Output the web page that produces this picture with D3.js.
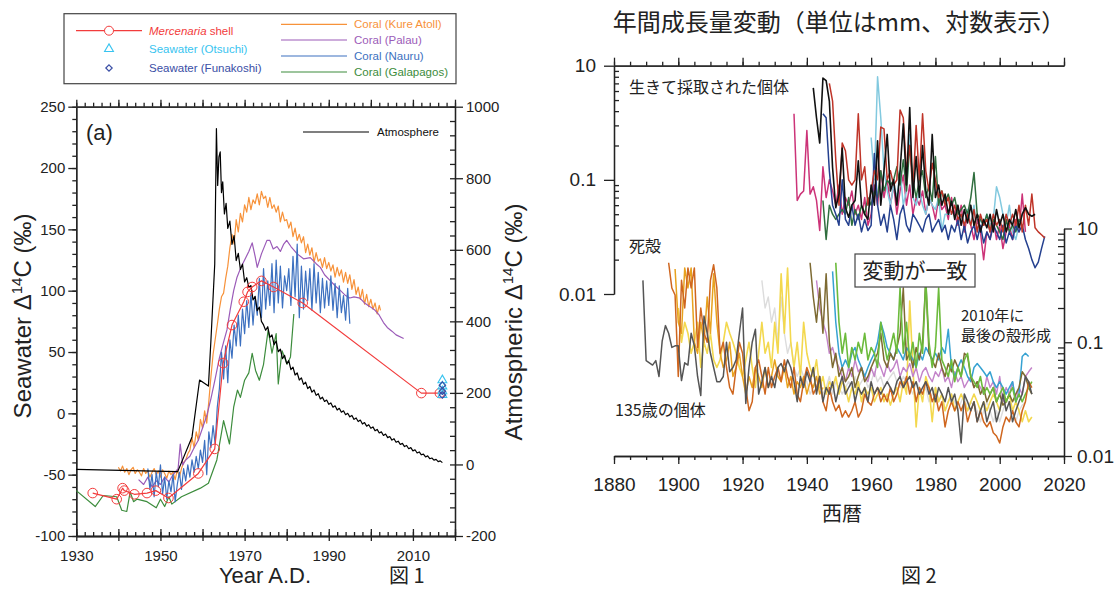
<!doctype html>
<html lang="ja">
<head>
<meta charset="utf-8">
<title>Radiocarbon and shell growth</title>
<style>
  body { margin: 0; background: #fff; }
  svg { display: block; font-family: "Liberation Sans", Arial, sans-serif; }
  .axis path, .axis line { stroke: #222; stroke-width: 1.3; }
  .axis text { fill: #222; }
  .jp { font-family: "Noto Sans CJK JP", sans-serif; fill: #222; }
  .series { fill: none; stroke-linejoin: round; }
</style>
</head>
<body>
<script src="https://d3js.org/d3.v7.min.js"></script>
<script>
// ---------- Figure 1 data: [year, Δ14C ‰] ----------
const atmosphere = [[1930,-14],[1954.1,-20],[1957.5,77],[1959.3,236],[1961.4,219],[1962,348],[1962.9,560],[1963.3,939],
  [1963.6,780],[1963.9,860],[1964.2,874],[1964.5,760],[1964.8,790],[1965.2,700],[1965.6,730],[1966,660],[1966.5,680],
  [1967,615],[1967.5,640],[1968,570],[1968.5,590],[1969,545],[1969.5,560],[1970,510],[1970.5,522],[1971,495],[1971.5,500],
  [1972,460],[1972.5,470],[1973,430],[1973.5,440],[1974,400],[1974.5,390],[1975,375],[1975.5,385],[1976,355],[1976.5,362],
  [1977,335],[1977.5,345],[1978,315],[1978.5,322],[1979,296],[1979.5,305],[1980,282],[1980.5,290],[1981,265],[1981.5,272],
  [1982,250],[1982.5,256],[1983,236],[1983.5,242],[1984,224],[1984.5,230],[1985,212],[1985.5,218],[1986,202],[1986.5,208],
  [1987,193],[1987.5,198],[1988,183],[1988.5,188],[1989,176],[1989.5,180],[1990,168],[1990.5,172],[1991,160],[1991.5,164],
  [1992,152],[1992.5,157],[1993,146],[1993.5,150],[1994,139],[1994.5,143],[1995,133],[1995.5,137],[1996,126],[1996.5,130],
  [1997,120],[1997.5,124],[1998,113],[1998.5,117],[1999,107],[1999.5,111],[2000,101],[2000.5,105],[2001,94],[2001.5,98],
  [2002,88],[2002.5,91],[2003,81],[2003.5,85],[2004,75],[2004.5,78],[2005,68],[2005.5,72],[2006,62],[2006.5,65],
  [2007,56],[2007.5,59],[2008,50],[2008.5,53],[2009,44],[2009.5,47],[2010,38],[2010.5,41],[2011,32],[2011.5,35],
  [2012,27],[2012.5,29],[2013,21],[2013.5,24],[2014,16],[2014.5,18],[2015,12],[2015.5,14],[2016,8],[2016.5,10],[2017,5]];

const coralKure = [[1940,-44],[1940.5,-47],[1941,-43],[1941.5,-48],[1942,-45],[1942.5,-50],[1943,-46],[1943.5,-44],
  [1944,-49],[1944.5,-46],[1945,-48],[1945.5,-51],[1946,-45],[1946.5,-49],[1947,-47],[1947.5,-52],[1948,-48],[1948.5,-45],
  [1949,-50],[1949.5,-47],[1950,-52],[1950.5,-46],[1951,-49],[1951.5,-53],[1952,-47],[1952.5,-50],[1953,-48],[1953.5,-54],
  [1954,-46],[1954.5,-52],[1955,-45],[1955.5,-40],[1956,-38],[1956.5,-33],[1957,-30],[1957.5,-20],[1958,-28],[1958.5,-15],
  [1959,-22],[1959.5,-5],[1960,-12],[1960.5,2],[1961,-8],[1961.5,10],[1962,30],[1962.5,48],[1963,60],[1963.5,72],
  [1964,85],[1964.5,95],[1965,98],[1965.5,110],[1966,120],[1966.5,135],[1967,146],[1967.5,138],[1968,158],[1968.5,148],
  [1969,163],[1969.5,156],[1970,170],[1970.5,164],[1971,176],[1971.5,166],[1972,174],[1972.5,171],[1973,179],[1973.5,170],
  [1974,181],[1974.5,175],[1975,177],[1975.5,168],[1976,176],[1976.5,167],[1977,170],[1977.5,164],[1978,169],[1978.5,156],
  [1979,164],[1979.5,157],[1980,158],[1980.5,151],[1981,156],[1981.5,144],[1982,151],[1982.5,141],[1983,146],[1983.5,139],
  [1984,144],[1984.5,131],[1985,138],[1985.5,129],[1986,135],[1986.5,123],[1987,131],[1987.5,124],[1988,126],[1988.5,119],
  [1989,127],[1989.5,118],[1990,123],[1990.5,116],[1991,121],[1991.5,111],[1992,119],[1992.5,112],[1993,117],[1993.5,107],
  [1994,115],[1994.5,106],[1995,113],[1995.5,101],[1996,109],[1996.5,97],[1997,103],[1997.5,93],[1998,101],[1998.5,89],
  [1999,97],[1999.5,87],[2000,93],[2000.5,85],[2001,90],[2001.5,81],[2002,88],[2002.3,84]];

const coralPalau = [[1944.8,-54],[1946,-58],[1947,-52],[1948,-60],[1949,-55],[1950,-58],[1951,-52],[1952,-56],[1953,-50],
  [1954.2,-45],[1954.7,-25],[1955.3,-42],[1956,-38],[1957,-35],[1958,-28],[1959,-22],[1960,-12],[1961,-2],[1962,12],
  [1963,28],[1964,45],[1965,58],[1965.8,68],[1966.6,85],[1967.4,100],[1968.2,111],[1969,118],[1970,125],[1971,132],
  [1971.8,139],[1972.5,128],[1973,119],[1974,130],[1975.3,141],[1976,141],[1976.8,134],[1977.7,136],[1978.5,132],
  [1979.3,138],[1980,141],[1981,136],[1982.5,130],[1984,126],[1985.6,127],[1987,122],[1988,119],[1989,113],[1990.4,108],
  [1991.5,104],[1992.8,100],[1994,96],[1995,94],[1996,95],[1997.4,94],[1998.5,90],[1999.8,87],[2001,84],[2002,80],
  [2003,74],[2003.9,70],[2005,67],[2006,64],[2007.8,61]];

const coralNauru = [[1947,-45],[1947.5,-62],[1948,-50],[1948.5,-68],[1949,-48],[1949.5,-60],[1950,-42],[1950.5,-66],
  [1951,-52],[1951.5,-70],[1952,-55],[1952.5,-64],[1953,-50],[1953.5,-72],[1954,-58],[1954.5,-48],[1955,-62],[1955.5,-45],
  [1956,-55],[1956.5,-42],[1957,-52],[1957.5,-38],[1958,-48],[1958.5,-35],[1959,-45],[1959.5,-30],[1960,-40],[1960.5,-22],
  [1961,-50],[1961.5,-15],[1962,-28],[1962.5,-10],[1963,-25],[1963.5,5],[1964,20],[1964.5,50],[1965,28],[1965.5,55],
  [1966,25],[1966.5,60],[1967,45],[1967.5,72],[1968,55],[1968.5,80],[1969,55],[1969.5,85],[1970,65],[1970.5,92],
  [1971,70],[1971.5,98],[1972,72],[1972.5,95],[1973,80],[1973.5,110],[1974,78],[1974.5,118],[1975,85],[1975.5,108],
  [1976,88],[1976.5,122],[1977,82],[1977.5,125],[1978,90],[1978.5,120],[1979,86],[1979.5,112],[1980,100],[1980.5,118],
  [1981,88],[1981.5,128],[1982,95],[1982.5,138],[1983,78],[1983.5,120],[1984,85],[1984.5,116],[1985,92],[1985.5,118],
  [1986,84],[1986.5,122],[1987,90],[1987.5,115],[1988,82],[1988.5,110],[1989,86],[1989.5,108],[1990,88],[1990.5,112],
  [1991,84],[1991.5,106],[1992,78],[1992.5,104],[1993,82],[1993.5,96],[1994,76],[1994.5,102],[1995,73]];

const coralGalapagos = [[1930,-63],[1934.5,-76],[1936.4,-67],[1939.6,-68],[1940.8,-79],[1942,-80],[1942.8,-64],[1943.6,-72],
  [1944.4,-70],[1946.8,-72],[1949,-77],[1950,-70],[1951,-76],[1952,-68],[1952.7,-74],[1955,-68],[1959.5,-61],[1961.4,-57],
  [1963.4,-38],[1965,-6],[1966.4,-25],[1967.4,5],[1968.3,19],[1969,13],[1970,27],[1971,33],[1971.8,49],[1972.6,35],
  [1973.5,27],[1974.5,40],[1975.6,68],[1976.5,49],[1977.5,65],[1978,24],[1978.9,51],[1980.1,40],[1980.9,46],[1981.7,81]];

const mercenaria = [[1933.9,-65],[1939.6,-70],[1941,-61],[1941.4,-63],[1943.8,-66],[1946.8,-65],[1948.9,-63],[1951.9,-69],
  [1959,-49],[1962.9,-29],[1964.9,41],[1967,72],[1969.8,91],[1970.7,99],[1971.8,103],[1974,108],[1976.9,103],[1983.8,90],
  [2012,16.5],[2016.4,16.5]];

const seawaterOtsuchi = [[2017,27],[2017,22],[2017,18],[2017,15]];
const seawaterFunakoshi = [[2017,23],[2017,18],[2017,15]];

// ---------- Figure 2 data: annual growth (mm), one value per year from the start year ----------
const logTickLabels = ["0.01", "0.1", "10"];

const liveMagenta = [0.38,0.066,0.075,0.08,0.27,0.075,0.087,0.066,0.036,0.13,0.07,0.1,0.08,0.06,0.09,0.05,0.07,0.06,0.08,0.05,
  0.06,0.045,0.07,0.04,0.05,0.09,0.06,0.12,0.07,0.1,0.06,0.09,0.05,0.08,0.11,0.06,0.09,0.05,0.07,0.06,
  0.08,0.05,0.07,0.06,0.045,0.07,0.055,0.06,0.045,0.07,0.05,0.04,0.06,0.035,0.05,0.04,0.03,0.045,0.035,0.02,
  0.035,0.03,0.045,0.03,0.04,0.025,0.035,0.04,0.03,0.045,0.035,0.075,0.035];
const liveLightBlue = [0.235,0.1,0.8,0.35,0.12,0.08,0.06,0.09,0.07,0.12,0.06,0.08,0.25,0.07,0.06,0.08,0.06,0.05,0.07,0.06,
  0.055,0.07,0.036,0.05,0.05,0.05,0.06,0.045,0.05,0.04,0.055,0.04,0.06,0.035,0.045,0.04,0.05,0.04,0.045,0.087,
  0.07,0.05,0.04,0.06,0.035,0.03,0.04,0.05];
const liveGreen = [0.066,0.03,0.06,0.05,0.045,0.05,0.055,0.05,0.07,0.04,0.055,0.045,0.06,0.05,0.07,0.06,0.08,0.07,0.12,0.08,
  0.1,0.09,0.1,0.13,0.09,0.15,0.08,0.2,0.1,0.07,0.1,0.12,0.07,0.09,0.065,0.16,0.06,0.08,0.065,0.075,
  0.06,0.07,0.05,0.055,0.06,0.05,0.07,0.116,0.05,0.045,0.04,0.05,0.035,0.045,0.04,0.035,0.03,0.045,0.035,0.04,
  0.035,0.045,0.04];
const liveNavy = [0.38,0.35,0.12,0.06,0.05,0.04,0.1,0.045,0.04,0.06,0.04,0.05,0.035,0.045,0.036,0.04,0.17,0.06,0.04,0.05,
  0.035,0.06,0.045,0.03,0.05,0.06,0.04,0.035,0.05,0.045,0.04,0.035,0.045,0.05,0.035,0.04,0.045,0.035,0.04,0.03,
  0.04,0.035,0.045,0.03,0.04,0.028,0.035,0.04,0.03,0.04,0.028,0.035,0.03,0.04,0.035,0.03,0.04,0.028,0.035,0.03,
  0.04,0.035,0.04,0.03,0.025,0.02,0.017,0.019,0.025,0.032];
const liveRed = [0.7,0.49,0.15,0.06,0.21,0.18,0.1,0.09,0.1,0.38,0.1,0.13,0.06,0.08,0.12,0.1,0.29,0.28,0.1,0.12,
  0.09,0.1,0.41,0.35,0.12,0.2,0.08,0.3,0.1,0.38,0.12,0.08,0.14,0.1,0.07,0.08,0.06,0.07,0.05,0.06,
  0.045,0.05,0.04,0.05,0.04,0.055,0.035,0.05,0.04,0.045,0.035,0.05,0.04,0.045,0.035,0.05,0.04,0.05,0.04,0.06,
  0.035,0.06,0.04,0.075,0.038,0.035,0.033,0.031];
const liveBlack = [0.64,0.35,0.21,0.78,0.74,0.49,0.128,0.057,0.075,0.19,0.057,0.047,0.06,0.066,0.147,0.06,0.05,0.045,0.09,0.06,
  0.22,0.06,0.12,0.25,0.08,0.1,0.06,0.12,0.31,0.09,0.43,0.07,0.16,0.07,0.2,0.08,0.06,0.25,0.07,0.09,
  0.06,0.075,0.05,0.065,0.045,0.06,0.04,0.055,0.042,0.06,0.04,0.05,0.035,0.045,0.038,0.05,0.035,0.055,0.04,0.05,
  0.035,0.045,0.04,0.055,0.038,0.05,0.057,0.05,0.048,0.05];

const deadPale = [0.35,0.2,0.25,0.15,0.2,0.1,0.25,0.12,0.08,0.1,0.06,0.05,0.06,0.05,0.045,0.035,0.04,0.05,0.04,0.035,
  0.04,0.05,0.035,0.045,0.04,0.035,0.04,0.045,0.04,0.05,0.04,0.045,0.05,0.04,0.045,0.055,0.045,0.05,0.04,0.045,
  0.05,0.055,0.045,0.04,0.05,0.045,0.04,0.035,0.045,0.04,0.035,0.04,0.03,0.035,0.04,0.03,0.035,0.025,0.03,0.035,
  0.03,0.025,0.03,0.035,0.025,0.03,0.028,0.025,0.02,0.025,0.03,0.025,0.02,0.025,0.02,0.025,0.03,0.03,0.025,0.02,
  0.025,0.028,0.03];
const deadYellow = [0.2,0.1,0.15,0.12,0.08,0.1,0.15,0.06,0.1,0.08, 0.12,0.07,0.06,0.07,0.1,0.15,0.12,0.1,0.08,0.06,
  0.05,0.07,0.1,0.06,0.04,0.08,0.15,0.08,0.1,0.06, 0.15,0.08,0.4,0.12,0.45,0.1,0.06,0.1,0.05,0.15,
  0.08,0.06,0.05,0.07,0.04,0.05,0.035,0.045,0.04,0.05, 0.035,0.045,0.04,0.03,0.04,0.035,0.045,0.03,0.04,0.035,
  0.04,0.03,0.035,0.04,0.03,0.035,0.028,0.035,0.04,0.03, 0.045,0.035,0.23,0.06,0.018,0.04,0.03,0.05,0.04,0.02,
  0.04,0.03,0.035,0.025,0.03,0.035,0.025,0.03,0.035,0.03, 0.025,0.03,0.035,0.03,0.025,0.03,0.025,0.03,0.035,0.03,
  0.025,0.035,0.03,0.035,0.025,0.03,0.025,0.02,0.025,0.02, 0.022];
const deadAmber = [0.44,0.15,0.12,0.45,0.3,0.45,0.1,0.08,0.15,0.1,0.25,0.12,0.4,0.15,0.08,0.06,0.07,0.1,0.05,0.06,
  0.08,0.05,0.035,0.05,0.04,0.06,0.05,0.04,0.06,0.04,0.05,0.07,0.05,0.045,0.06,0.04,0.05,0.035,0.045,0.04,
  0.05,0.035,0.045,0.04,0.05,0.035,0.04];
const deadLavender = [0.35,0.2,0.15,0.12,0.08,0.09,0.07,0.06,0.05,0.045,0.06,0.05,0.07,0.055,0.06,0.05,0.045,0.06,0.05,0.07,
  0.06,0.05,0.065,0.055,0.06,0.07,0.05,0.06,0.055,0.065,0.05,0.06,0.045,0.055,0.06,0.05,0.045,0.055,0.05,0.06,
  0.045,0.05,0.04,0.055,0.045,0.05,0.04,0.045,0.05,0.04,0.045,0.04,0.035,0.05,0.04,0.045,0.035,0.05,0.03,0.04,
  0.035,0.045,0.03,0.04,0.035,0.05,0.055,0.06];
const deadTeal = [0.42,0.15,0.08,0.06,0.07,0.06,0.08,0.09,0.07,0.06, 0.05,0.06,0.07,0.08,0.1,0.15,0.12,0.09,0.08,0.07,
  0.09,0.08,0.07,0.09,0.08,0.07,0.06,0.08,0.07,0.09, 0.08,0.07,0.08,0.07,0.09,0.08,0.13,0.06,0.05,0.06,
  0.07,0.06,0.05,0.045,0.06,0.065,0.06,0.055,0.05,0.055, 0.045,0.04,0.045,0.04,0.035,0.04,0.045,0.03,0.035,0.075,
  0.08,0.075];
const deadOlive = [0.5,0.25,0.15,0.3,0.12,0.4,0.1,0.06,0.08,0.05,0.06,0.045,0.05,0.06,0.04,0.05,0.06,0.045,0.05,0.06,
  0.07,0.08,0.12,0.07,0.06,0.08,0.07,0.09,0.12,0.3,0.07,0.08,0.06,0.09,0.07,0.1,0.35,0.08,0.07,0.06,
  0.08,0.06,0.05,0.065,0.055,0.07,0.06,0.05,0.08,0.075,0.05,0.04,0.045,0.035,0.04,0.03,0.035,0.04,0.03,0.035,
  0.028,0.03,0.035,0.03,0.035,0.04,0.055,0.05,0.04,0.035];
const deadGreen = [0.5,0.15,0.08,0.12,0.06,0.09,0.07,0.1,0.08,0.12, 0.07,0.09,0.08,0.06,0.15,0.1,0.07,0.09,0.12,0.08,
  0.3,0.08,0.15,0.07,0.1,0.06,0.12,0.08,0.35,0.1, 0.06,0.09,0.3,0.07,0.06,0.05,0.07,0.045,0.06,0.05,
  0.07,0.08,0.05,0.045,0.04,0.05,0.035,0.04,0.035,0.04, 0.03,0.035,0.04,0.03,0.035,0.04,0.03,0.035,0.03,0.035,
  0.04,0.045];
const deadOrange = [0.5,0.3,0.26,0.05,0.35,0.2,0.45,0.3,0.45,0.09,0.2,0.12,0.1,0.35,0.48,0.3,0.08,0.1,0.06,0.04,
  0.035,0.06,0.1,0.08,0.04,0.025,0.03,0.06,0.07,0.05,0.035,0.06,0.04,0.05,0.06,0.045,0.07,0.05,0.04,0.06,
  0.035,0.03,0.045,0.06,0.05,0.035,0.04,0.05,0.03,0.025,0.04,0.03,0.025,0.028,0.022,0.025,0.022,0.025,0.03,0.022,
  0.025,0.035,0.03,0.028,0.035,0.04,0.03,0.035,0.03,0.04,0.03,0.035,0.045,0.04,0.05,0.035,0.045,0.03,0.04,0.035,
  0.045,0.04,0.03,0.035,0.025,0.03,0.018,0.025,0.03,0.025,0.03,0.025,0.03,0.02,0.025,0.03,0.02,0.025,0.02,0.018,
  0.02,0.016,0.015,0.013,0.018,0.022,0.02,0.025,0.02,0.018,0.025,0.03,0.045,0.04];
const deadGray = [0.35,0.069,0.066,0.063,0.069,0.05,0.103,0.14,0.12,0.09, 0.093,0.093,0.046,0.066,0.063,0.12,0.093,0.05,0.034,0.17,
  0.12,0.08,0.06,0.045,0.045,0.05,0.1,0.055,0.06,0.07, 0.12,0.2,0.029,0.06,0.1,0.13,0.035,0.045,0.06,0.04,
  0.05,0.04,0.06,0.065,0.055,0.07,0.06,0.045,0.03,0.05, 0.04,0.055,0.045,0.06,0.035,0.05,0.03,0.04,0.035,0.045,
  0.03,0.04,0.05,0.035,0.04,0.045,0.03,0.04,0.035,0.04, 0.03,0.045,0.035,0.04,0.035,0.04,0.045,0.04,0.035,0.045,
  0.05,0.04,0.045,0.05,0.04,0.045,0.035,0.04,0.045,0.035, 0.04,0.03,0.04,0.035,0.03,0.04,0.03,0.035,0.025,0.013,
  0.035,0.03,0.025,0.03,0.02,0.025,0.03,0.02,0.025,0.03, 0.02,0.025,0.035,0.025,0.03,0.02,0.025,0.03,0.035,0.05,
  0.045,0.035];

const W = 1119, H = 589;
const svg = d3.select("body").append("svg").attr("width", W).attr("height", H);

// =================== Figure 1 ===================
const x1 = d3.scaleLinear().domain([1930, 2020]).range([76.3, 455]);
const yL = d3.scaleLinear().domain([-100, 250]).range([536, 106.7]);
const yR = d3.scaleLinear().domain([-200, 1000]).range([536, 106.7]);

function styleAxis(g, size) {
    g.attr("class", "axis").style("font-size", size + "px");
    g.selectAll("text").style("font-family", '"Liberation Sans", Arial, sans-serif');
}

const f1 = svg.append("g");

// minor ticks (no labels)
f1.append("g").attr("transform", "translate(0,536)")
    .call(d3.axisBottom(x1).tickValues(d3.range(1930, 2021, 2)).tickSize(-4).tickSizeOuter(0).tickFormat(""))
    .call(styleAxis, 15);
f1.append("g").attr("transform", "translate(0,536)")
    .call(d3.axisBottom(x1).tickValues(d3.range(1930, 2021, 10)).tickSize(5).tickPadding(9).tickSizeOuter(0)
        .tickFormat(d => (d - 1930) % 20 === 0 ? String(d) : ""))
    .call(styleAxis, 15);
f1.append("g").attr("transform", "translate(0,536)")
    .call(d3.axisBottom(x1).tickValues(d3.range(1930, 2021, 10)).tickSize(-7).tickSizeOuter(0).tickFormat(""))
    .call(styleAxis, 15);
f1.append("g").attr("transform", "translate(0,106.7)")
    .call(d3.axisTop(x1).tickValues(d3.range(1930, 2021, 2)).tickSize(4).tickSizeOuter(0).tickFormat(""))
    .call(styleAxis, 15);
f1.append("g").attr("transform", "translate(0,106.7)")
    .call(d3.axisTop(x1).tickValues(d3.range(1930, 2021, 10)).tickSize(7).tickSizeOuter(0).tickFormat(""))
    .call(styleAxis, 15);
f1.append("g").attr("transform", "translate(76.3,0)")
    .call(d3.axisLeft(yL).tickValues(d3.range(-100, 251, 10)).tickSize(4).tickSizeOuter(0).tickFormat(""))
    .call(styleAxis, 15);
f1.append("g").attr("transform", "translate(76.3,0)")
    .call(d3.axisLeft(yL).tickValues(d3.range(-100, 251, 50)).tickSize(8).tickPadding(3).tickSizeOuter(0).tickFormat(d => String(d)))
    .call(styleAxis, 15);
f1.append("g").attr("transform", "translate(455,0)")
    .call(d3.axisRight(yR).tickValues(d3.range(-200, 1001, 40)).tickSize(-5).tickSizeOuter(0).tickFormat(""))
    .call(styleAxis, 15);
f1.append("g").attr("transform", "translate(455,0)")
    .call(d3.axisRight(yR).tickValues(d3.range(-200, 1001, 200)).tickSize(8).tickPadding(3).tickSizeOuter(0).tickFormat(d => String(d)))
    .call(styleAxis, 15);

const lineL = d3.line().x(d => x1(d[0])).y(d => yL(d[1]));
const lineR = d3.line().x(d => x1(d[0])).y(d => yR(d[1]));

const seriesF1 = [
    { data: coralGalapagos, color: "#3c8c3c", line: lineL },
    { data: coralKure, color: "#f7923a", line: lineL },
    { data: coralPalau, color: "#9b5bb8", line: lineL },
    { data: coralNauru, color: "#3c70c0", line: lineL },
    { data: atmosphere, color: "#000000", line: lineR },
    { data: mercenaria, color: "#f23c3c", line: lineL }
];
f1.selectAll("path.series").data(seriesF1).enter().append("path")
    .attr("class", "series")
    .attr("d", d => d.line(d.data))
    .attr("stroke", d => d.color)
    .attr("stroke-width", 1.2);

f1.selectAll("circle.merc").data(mercenaria).enter().append("circle")
    .attr("class", "merc")
    .attr("cx", d => x1(d[0])).attr("cy", d => yL(d[1])).attr("r", 4.8)
    .attr("fill", "none").attr("stroke", "#f23c3c").attr("stroke-width", 1);

const tri = d3.symbol().type(d3.symbolTriangle).size(34);
const dia = d3.symbol().type(d3.symbolDiamond2).size(26);
f1.selectAll("path.ots").data(seawaterOtsuchi).enter().append("path")
    .attr("class", "ots").attr("d", tri)
    .attr("transform", d => `translate(${x1(d[0])},${yL(d[1])})`)
    .attr("fill", "none").attr("stroke", "#38c4f0").attr("stroke-width", 1.1);
f1.selectAll("path.fun").data(seawaterFunakoshi).enter().append("path")
    .attr("class", "fun").attr("d", dia)
    .attr("transform", d => `translate(${x1(d[0])},${yL(d[1])})`)
    .attr("fill", "none").attr("stroke", "#3a4ea5").attr("stroke-width", 1.2);

// panel label and atmosphere key
f1.append("text").attr("x", 86).attr("y", 140).attr("font-size", 22).attr("fill", "#222").text("(a)");
f1.append("line").attr("x1", 303).attr("x2", 369).attr("y1", 132).attr("y2", 132).attr("stroke", "#000").attr("stroke-width", 1.2);
f1.append("text").attr("x", 377).attr("y", 136).attr("font-size", 11.5).attr("fill", "#111").text("Atmosphere");

// legend box
const leg = f1.append("g");
leg.append("rect").attr("x", 64).attr("y", 13.7).attr("width", 392).attr("height", 70)
    .attr("fill", "none").attr("stroke", "#444").attr("stroke-width", 1.2);
leg.append("line").attr("x1", 76).attr("x2", 142).attr("y1", 30.7).attr("y2", 30.7).attr("stroke", "#f23c3c").attr("stroke-width", 1.2);
leg.append("circle").attr("cx", 109).attr("cy", 30.7).attr("r", 4.5).attr("fill", "#fff").attr("stroke", "#f23c3c");
const mt = leg.append("text").attr("x", 149).attr("y", 34.7).attr("font-size", 11.5).attr("fill", "#f23c3c");
mt.append("tspan").attr("font-style", "italic").text("Mercenaria");
mt.append("tspan").text(" shell");
leg.append("path").attr("d", tri).attr("transform", "translate(109,49)").attr("fill", "none").attr("stroke", "#38c4f0").attr("stroke-width", 1.1);
leg.append("text").attr("x", 149).attr("y", 52.8).attr("font-size", 11.5).attr("fill", "#38c4f0").text("Seawater (Otsuchi)");
leg.append("path").attr("d", dia).attr("transform", "translate(109,68)").attr("fill", "none").attr("stroke", "#3a4ea5").attr("stroke-width", 1.2);
leg.append("text").attr("x", 149).attr("y", 72).attr("font-size", 11.5).attr("fill", "#3a4ea5").text("Seawater (Funakoshi)");

const coralKeys = [
    { name: "Coral (Kure Atoll)", color: "#f7923a", y: 24.3 },
    { name: "Coral (Palau)", color: "#9b5bb8", y: 40 },
    { name: "Coral (Nauru)", color: "#3c70c0", y: 56 },
    { name: "Coral (Galapagos)", color: "#3c8c3c", y: 72 }
];
coralKeys.forEach(k => {
    leg.append("line").attr("x1", 281).attr("x2", 347).attr("y1", k.y).attr("y2", k.y).attr("stroke", k.color).attr("stroke-width", 1.2);
    leg.append("text").attr("x", 354).attr("y", k.y + 4).attr("font-size", 11.5).attr("fill", k.color).text(k.name);
});

// axis titles
function deltaTitle(sel, prefix) {
    sel.append("tspan").text(prefix + " Δ");
    sel.append("tspan").attr("font-size", 15).attr("dy", -9).text("14");
    sel.append("tspan").attr("dy", 9).text("C (‰)");
}
f1.append("text").attr("transform", "translate(31,316) rotate(-90)").attr("text-anchor", "middle")
    .attr("font-size", 24).attr("fill", "#222").call(deltaTitle, "Seawater");
f1.append("text").attr("transform", "translate(522,322) rotate(-90)").attr("text-anchor", "middle")
    .attr("font-size", 24).attr("fill", "#222").call(deltaTitle, "Atmospheric");
f1.append("text").attr("x", 265).attr("y", 583).attr("text-anchor", "middle").attr("font-size", 22).attr("fill", "#222").text("Year A.D.");
f1.append("text").attr("class", "jp").attr("x", 389).attr("y", 583).attr("font-size", 20).text("図 1");

// =================== Figure 2 ===================
const x2 = d3.scaleLinear().domain([1880, 2020]).range([614, 1064]);
const yUp = d3.scaleLog().domain([0.01, 1]).range([294, 65.7]);
const yLo = d3.scaleLog().domain([0.01, 1]).range([456, 228.5]);
const majorLog = [0.01, 0.1, 1];
const minorLog = [0.02, 0.03, 0.04, 0.05, 0.06, 0.07, 0.08, 0.09, 0.2, 0.3, 0.4, 0.5, 0.6, 0.7, 0.8, 0.9];

const f2 = svg.append("g");

f2.append("text").attr("class", "jp").attr("x", 839).attr("y", 31).attr("text-anchor", "middle")
    .attr("font-size", 24).text("年間成長量変動（単位はmm、対数表示）");

// upper panel axes
f2.append("g").attr("transform", "translate(0,65.7)")
    .call(d3.axisTop(x2).tickValues(d3.range(1880, 2021, 5)).tickSize(4).tickSizeOuter(0).tickFormat(""))
    .call(styleAxis, 19);
f2.append("g").attr("transform", "translate(0,65.7)")
    .call(d3.axisTop(x2).tickValues(d3.range(1880, 2021, 20)).tickSize(8).tickSizeOuter(0).tickFormat(""))
    .call(styleAxis, 19);
f2.append("g").attr("transform", "translate(614,0)")
    .call(d3.axisLeft(yUp).tickValues(minorLog).tickSize(-5).tickSizeOuter(0).tickFormat(""))
    .call(styleAxis, 19);
f2.append("g").attr("transform", "translate(614,0)")
    .call(d3.axisLeft(yUp).tickValues(majorLog).tickSize(10).tickPadding(8).tickSizeOuter(0).tickFormat((d, i) => logTickLabels[i]))
    .call(styleAxis, 19);

// lower panel axes
f2.append("g").attr("transform", "translate(0,456)")
    .call(d3.axisBottom(x2).tickValues(d3.range(1880, 2021, 5)).tickSize(4).tickSizeOuter(0).tickFormat(""))
    .call(styleAxis, 19);
f2.append("g").attr("transform", "translate(0,456)")
    .call(d3.axisBottom(x2).tickValues(d3.range(1880, 2021, 20)).tickSize(8).tickPadding(14).tickSizeOuter(0).tickFormat(d => String(d)))
    .call(styleAxis, 19);
f2.append("g").attr("transform", "translate(1064,0)")
    .call(d3.axisRight(yLo).tickValues(minorLog).tickSize(-6).tickSizeOuter(0).tickFormat(""))
    .call(styleAxis, 19);
f2.append("g").attr("transform", "translate(1064,0)")
    .call(d3.axisRight(yLo).tickValues(majorLog).tickSize(8).tickPadding(5).tickSizeOuter(0).tickFormat((d, i) => logTickLabels[i]))
    .call(styleAxis, 19);

const deadSeries = [
    { vals: deadPale, start: 1926, color: "#dcdcdc", w: 1.4 },
    { vals: deadYellow, start: 1900, color: "#f3d84e", w: 1.6 },
    { vals: deadAmber, start: 1899, color: "#e8a21e", w: 1.5 },
    { vals: deadLavender, start: 1943, color: "#c383c9", w: 1.4 },
    { vals: deadTeal, start: 1948, color: "#36a2d2", w: 1.5 },
    { vals: deadOlive, start: 1941, color: "#7d6a32", w: 1.5 },
    { vals: deadGreen, start: 1949, color: "#6cbb3c", w: 1.6 },
    { vals: deadOrange, start: 1897, color: "#cf661f", w: 1.5 },
    { vals: deadGray, start: 1889, color: "#555555", w: 1.5 }
];
const liveSeries = [
    { vals: liveMagenta, start: 1936, color: "#cc3378", w: 1.5 },
    { vals: liveLightBlue, start: 1960, color: "#82c9df", w: 1.5 },
    { vals: liveGreen, start: 1945, color: "#2f6e3e", w: 1.5 },
    { vals: liveNavy, start: 1945, color: "#24408f", w: 1.5 },
    { vals: liveRed, start: 1947, color: "#bf3428", w: 1.5 },
    { vals: liveBlack, start: 1942, color: "#111111", w: 1.6 }
];

function drawGrowth(list, yScale) {
    f2.append("g").selectAll("path").data(list).enter().append("path")
        .attr("class", "series")
        .attr("stroke", d => d.color)
        .attr("stroke-width", d => d.w)
        .attr("d", d => d3.line().x((v, i) => x2(d.start + i)).y(v => yScale(v))(d.vals));
}
drawGrowth(deadSeries, yLo);
drawGrowth(liveSeries, yUp);

// annotations
f2.append("text").attr("class", "jp").attr("x", 629).attr("y", 93).attr("font-size", 16).text("生きて採取された個体");
f2.append("text").attr("class", "jp").attr("x", 629).attr("y", 252).attr("font-size", 16).text("死殻");
f2.append("text").attr("class", "jp").attr("x", 615).attr("y", 416).attr("font-size", 16).text("135歳の個体");
f2.append("text").attr("class", "jp").attr("x", 961).attr("y", 321).attr("font-size", 15).text("2010年に");
f2.append("text").attr("class", "jp").attr("x", 961).attr("y", 341).attr("font-size", 15).text("最後の殻形成");
f2.append("rect").attr("x", 855).attr("y", 254).attr("width", 120).attr("height", 33)
    .attr("fill", "#fff").attr("stroke", "#444").attr("stroke-width", 1.2);
f2.append("text").attr("class", "jp").attr("x", 915).attr("y", 278).attr("text-anchor", "middle").attr("font-size", 21).text("変動が一致");
f2.append("text").attr("class", "jp").attr("x", 842).attr("y", 521).attr("text-anchor", "middle").attr("font-size", 20).text("西暦");
f2.append("text").attr("class", "jp").attr("x", 901).attr("y", 583).attr("font-size", 20).text("図 2");
</script>
</body>
</html>
